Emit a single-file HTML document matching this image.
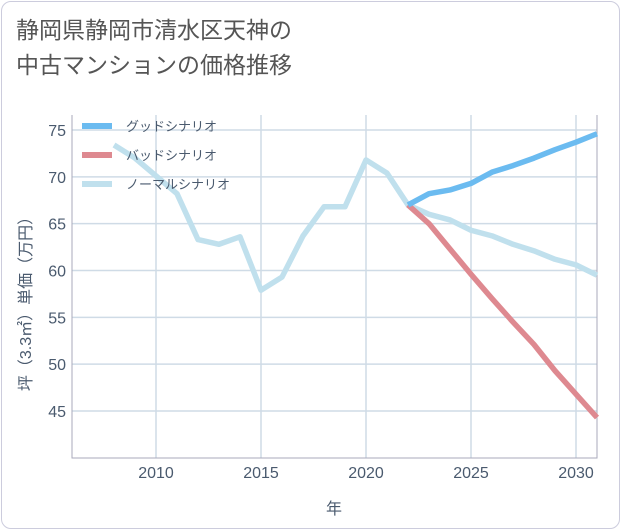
<!DOCTYPE html>
<html><head><meta charset="utf-8"><style>
body{margin:0;background:#fff;}
#wrap{position:relative;width:621px;height:530px;font-family:"Liberation Sans","Noto Sans CJK JP",sans-serif;}
#frame{position:absolute;left:1px;top:1px;width:617px;height:526px;border:1px solid #ccd;border-radius:10px;}
h1{position:absolute;left:16px;top:13px;margin:0;font-weight:normal;font-size:23px;line-height:35px;color:#555;}
</style></head><body>
<div id="wrap">
<div id="frame"></div>
<h1>静岡県静岡市清水区天神の<br>中古マンションの価格推移</h1>
<svg id="c" width="621" height="530" style="position:absolute;left:0;top:0"></svg>
</div>
<script>
const years=[2008,2009,2010,2011,2012,2013,2014,2015,2016,2017,2018,2019,2020,2021,2022,2023,2024,2025,2026,2027,2028,2029,2030,2031];
const normal=[73.4,72.0,70.1,68.2,63.3,62.8,63.6,57.9,59.3,63.7,66.8,66.8,71.8,70.4,67.0,66.0,65.4,64.3,63.7,62.8,62.1,61.2,60.6,59.5];
const goodYears=[2022,2023,2024,2025,2026,2027,2028,2029,2030,2031];
const good=[67.0,68.2,68.6,69.3,70.5,71.2,72.0,72.9,73.7,74.6];
const bad=[67.0,65.0,62.3,59.6,57.0,54.5,52.1,49.3,46.8,44.3];
const xTicks=[2010,2015,2020,2025,2030];
const yTicks=[45,50,55,60,65,70,75];
const L=72,R=597,T=115,B=458;
const x=v=>156+(v-2010)*21;
const y=v=>130+(75-v)*9.367;
const s=document.getElementById('c');const NS='http://www.w3.org/2000/svg';
function el(t,a){const e=document.createElementNS(NS,t);for(const k in a)e.setAttribute(k,a[k]);s.appendChild(e);return e;}
xTicks.forEach(t=>{const l=el('line',{x1:x(t),x2:x(t),y1:T,y2:B,stroke:'#cfdbe6','stroke-width':1.5});

const tx=el('text',{x:x(t),y:478,'text-anchor':'middle','font-size':16,fill:'#4a5a6e'});tx.textContent=t;
});
yTicks.forEach(t=>{const l=el('line',{x1:L,x2:R,y1:y(t),y2:y(t),stroke:'#cfdbe6','stroke-width':1.5});

const tx=el('text',{x:66,y:y(t)+6,'text-anchor':'end','font-size':16,fill:'#4a5a6e'});tx.textContent=t;
});
const ax=el('path',{d:`M${L} ${T}V${B}H${R}V${T}`,fill:'none',stroke:'#aab','stroke-width':1});

function line(xs,vs,c,n){const p=el('polyline',{points:xs.map((yr,i)=>x(yr)+','+y(vs[i])).join(' '),fill:'none',stroke:c,'stroke-width':5.5,'stroke-linejoin':'round'});
}
line(years,normal,'#c0e0ed','normal-scenario-line');
line(goodYears,bad,'#de8990','bad-scenario-line');
line(goodYears,good,'#6bbbf0','good-scenario-line');
const leg=[['グッドシナリオ','#6bbbf0'],['バッドシナリオ','#de8990'],['ノーマルシナリオ','#c0e0ed']];
leg.forEach((g,i)=>{const yy=126+i*29;const r=el('rect',{x:82,y:yy-3,width:30,height:6,fill:g[1]});

const t=el('text',{x:126,y:yy+5,'font-size':13,fill:'#4a5a6e'});t.textContent=g[0];
});
const xt=el('text',{x:334,y:514,'text-anchor':'middle','font-size':16,fill:'#4a5a6e'});xt.textContent='年';

const yt=el('text',{x:0,y:0,'text-anchor':'middle','font-size':16,fill:'#4a5a6e',transform:'translate(31,300) rotate(-90)'});yt.textContent='坪（3.3㎡）単価（万円）';

</script>
</body></html>
